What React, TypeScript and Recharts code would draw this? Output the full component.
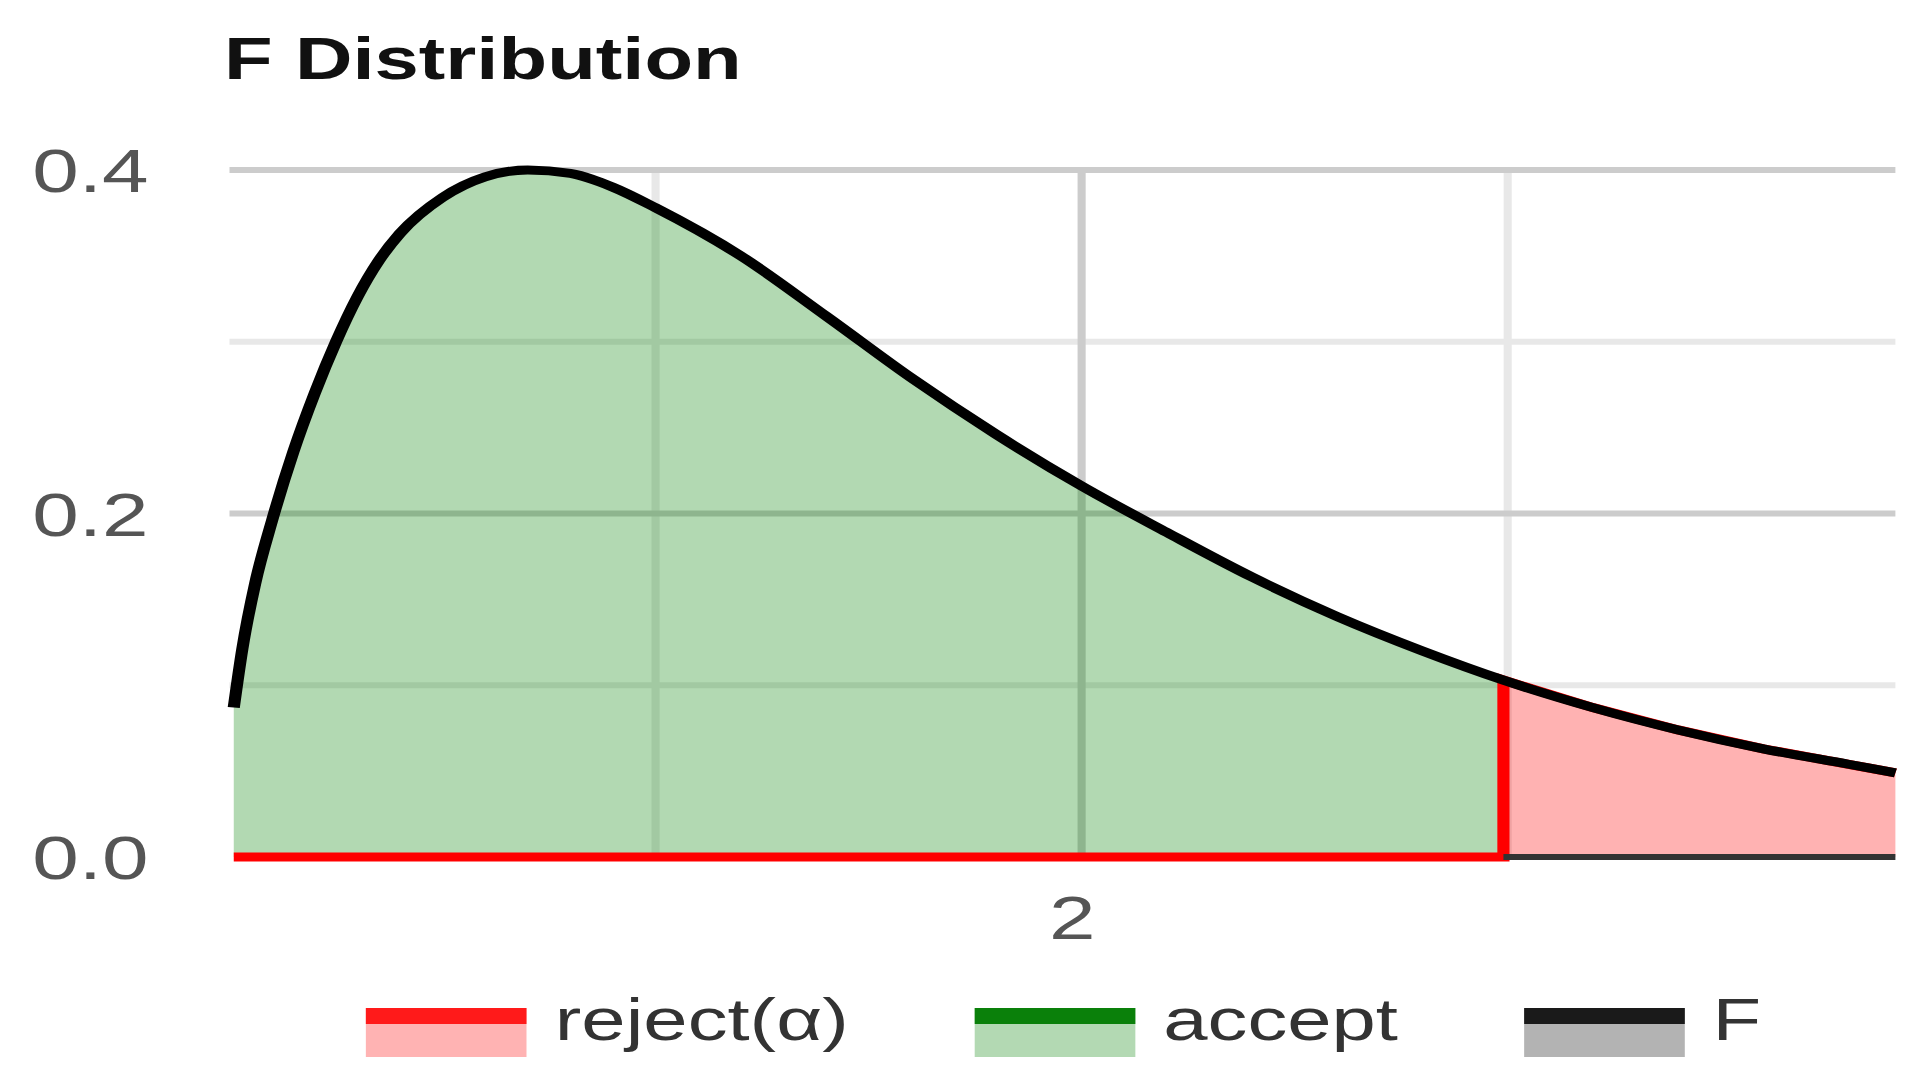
import { Area, CartesianGrid, ComposedChart, Line, ReferenceLine, XAxis, YAxis } from "recharts";

// density curve
const xValues = [0.01, 0.03, 0.06, 0.1, 0.15, 0.2, 0.25, 0.3, 0.35, 0.4, 0.5, 0.6, 0.7, 0.8, 0.9, 1.0, 1.2, 1.4, 1.6, 1.8, 2.0, 2.2, 2.4, 2.6, 2.8, 2.99, 3.2, 3.4, 3.6, 3.8, 3.91];
const fValues = [0.087, 0.121, 0.159, 0.196, 0.236, 0.27, 0.3, 0.326, 0.347, 0.363, 0.384, 0.396, 0.4, 0.398, 0.39, 0.378, 0.35, 0.315, 0.279, 0.246, 0.216, 0.189, 0.163, 0.14, 0.12, 0.103, 0.087, 0.074, 0.063, 0.054, 0.049];
const critValue = 2.99;
const xMax = 3.91;

const yTicks = [0, 0.2, 0.4];
const xTicks = [2];
const minorY = [0.1, 0.3];
const majorY = [0.2, 0.4];
const minorX = [1, 3];
const majorX = [2];

const legendItems = [
  { label: "reject(α)", line: "#ff1a1a", fill: "#ffb3b3" },
  { label: "accept", line: "#0a800a", fill: "#b3d9b3" },
  { label: "F", line: "#1a1a1a", fill: "#b3b3b3" },
];

type Row = { x: number; f: number; accept?: number | null; reject: number };

const rows: Row[] = [];
xValues.forEach((x, i) => {
  const f = fValues[i];
  if (x < critValue) {
    rows.push({ x, f, accept: f, reject: 0 });
  } else if (x === critValue) {
    rows.push({ x, f, accept: f, reject: 0 });
    rows.push({ x, f, accept: null, reject: f });
  } else {
    rows.push({ x, f, accept: null, reject: f });
  }
});

const FONT = "'Liberation Sans', Arial, sans-serif";
const SX = 1.35;

export default function App() {
  return (
    <div
      style={{
        position: "absolute",
        left: 0,
        top: 0,
        width: 1430,
        height: 1092,
        transform: `scaleX(${SX})`,
        transformOrigin: "0 0",
        fontFamily: FONT,
        background: "#fff",
      }}
    >
      <div
        style={{
          position: "absolute",
          left: 166,
          top: 30,
          fontSize: 59,
          lineHeight: 1,
          fontWeight: "bold",
          color: "#111",
        }}
      >
        F Distribution
      </div>

      <div style={{ position: "absolute", left: 0, top: 0 }}>
        <ComposedChart
          width={1430}
          height={960}
          data={rows}
          margin={{ top: 170, right: 26, bottom: 0, left: 0 }}
          style={{ fontFamily: FONT }}
        >
          <CartesianGrid
            horizontalValues={minorY}
            verticalValues={minorX}
            stroke="#e8e8e8"
            strokeWidth={6}
          />
          <CartesianGrid
            horizontalValues={majorY}
            verticalValues={majorX}
            stroke="#cccccc"
            strokeWidth={6}
          />
          <XAxis
            dataKey="x"
            type="number"
            domain={[0, xMax]}
            ticks={xTicks}
            height={103}
            tickSize={0}
            tickMargin={38}
            tickLine={false}
            axisLine={false}
            tick={{ fill: "#555", fontSize: 62, fontFamily: FONT, dx: -7 }}
          />
          <YAxis
            type="number"
            domain={[0, 0.4]}
            ticks={yTicks}
            width={170}
            tickSize={0}
            tickMargin={60}
            tickLine={false}
            axisLine={false}
            tickFormatter={(v: number) => v.toFixed(1)}
            tick={{ fill: "#555", fontSize: 62, fontFamily: FONT }}
          />
          <ReferenceLine
            segment={[
              { x: critValue, y: 0 },
              { x: xMax, y: 0 },
            ]}
            stroke="#333"
            strokeWidth={6}
          />
          <Area
            dataKey="accept"
            type="monotone"
            stroke="none"
            fill="#008000"
            fillOpacity={0.3}
            isAnimationActive={false}
            dot={false}
            activeDot={false}
          />
          <Area
            dataKey="reject"
            type="linear"
            stroke="#ff0000"
            strokeWidth={9}
            fill="#ff0000"
            fillOpacity={0.3}
            isAnimationActive={false}
            dot={false}
            activeDot={false}
          />
          <Line
            dataKey="f"
            type="monotone"
            stroke="#000"
            strokeWidth={9}
            dot={false}
            activeDot={false}
            isAnimationActive={false}
          />
        </ComposedChart>
      </div>

      <div
        style={{
          position: "absolute",
          left: 271,
          top: 1008,
          display: "flex",
          alignItems: "flex-start",
        }}
      >
        {legendItems.map((item) => (
          <div key={item.label} style={{ display: "flex", alignItems: "flex-start", marginRight: 93 }}>
            <div
              style={{
                width: 119,
                height: 49,
                boxSizing: "border-box",
                background: item.fill,
                borderTop: `16px solid ${item.line}`,
              }}
            />
            <div
              style={{
                marginLeft: 21,
                marginTop: -12,
                fontSize: 59,
                lineHeight: "49px",
                color: "#333",
                whiteSpace: "nowrap",
              }}
            >
              {item.label}
            </div>
          </div>
        ))}
      </div>
    </div>
  );
}
